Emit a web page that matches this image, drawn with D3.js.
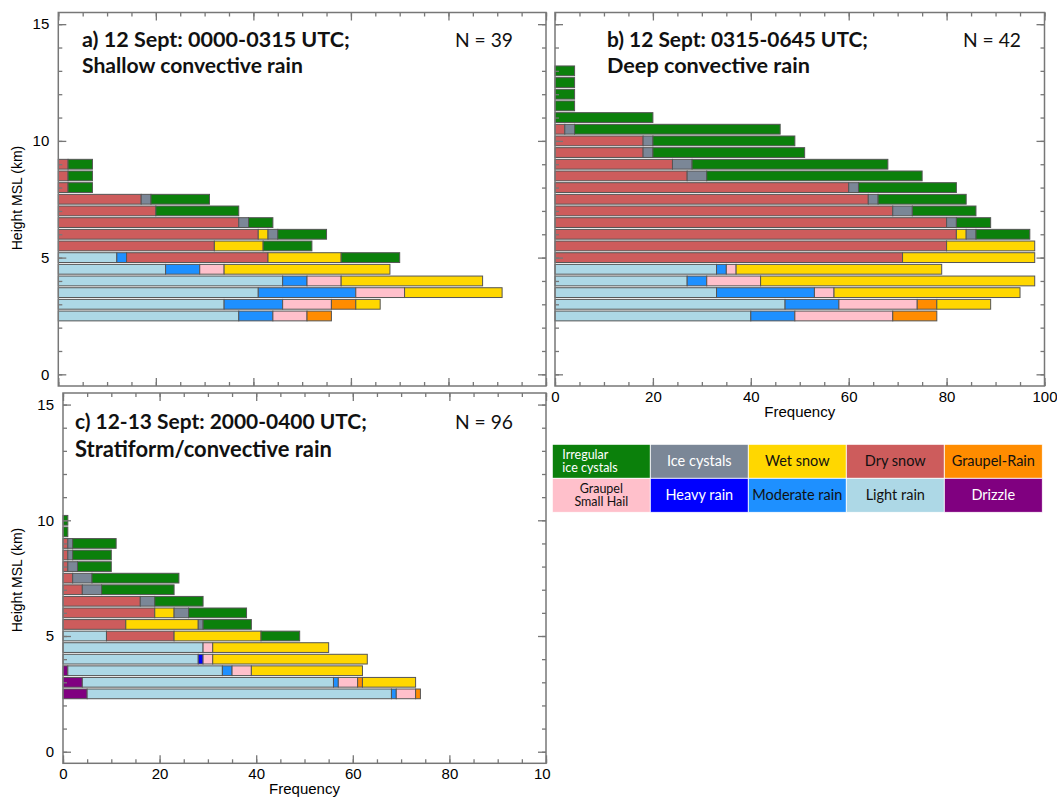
<!DOCTYPE html>
<html>
<head>
<meta charset="utf-8">
<script src="https://cdn.jsdelivr.net/npm/d3@7"></script>
<style>
  body { margin: 0; background: #fff; }
  svg { display: block; }
</style>
</head>
<body>
<svg id="fig" width="1057" height="798"></svg>
<script>
// Hydrometeor classes, in stacking order from left to right
const classKeys = ["Dz", "LR", "MR", "HR", "GSH", "GR", "DS", "WS", "IC", "IIC"];
const classLabels = ["Drizzle", "Light rain", "Moderate rain", "Heavy rain", "Graupel Small Hail",
                     "Graupel-Rain", "Dry snow", "Wet snow", "Ice cystals", "Irregular ice cystals"];
const classColors = ["#800080", "#add8e6", "#1e90ff", "#0000ff", "#ffc0cb",
                     "#ff8c00", "#cd5c5c", "#ffd700", "#7b8797", "#0b800b"];

// Legend layout order (two rows of five)
const legendOrder = [["IIC", "IC", "WS", "DS", "GR"], ["GSH", "HR", "MR", "LR", "Dz"]];
const legendText = {
  IIC: ["Irregular", "ice cystals"], IC: ["Ice cystals"], WS: ["Wet snow"], DS: ["Dry snow"],
  GR: ["Graupel-Rain"], GSH: ["Graupel", "Small Hail"], HR: ["Heavy rain"],
  MR: ["Moderate rain"], LR: ["Light rain"], Dz: ["Drizzle"]
};
const legendTextColor = { IIC: "#fff", IC: "#fff", HR: "#fff", Dz: "#fff" };

// Height levels (km MSL) and frequency of each class per level (%)
const levelsA = [2.5, 3.0, 3.5, 4.0, 4.5, 5.0, 5.5, 6.0, 6.5, 7.0, 7.5, 8.0, 8.5, 9.0];
const freqA = [
  [0, 37, 7, 0, 7, 5, 0, 0, 0, 0],
  [0, 34, 12, 0, 10, 5, 0, 5, 0, 0],
  [0, 41, 20, 0, 10, 0, 0, 20, 0, 0],
  [0, 46, 5, 0, 7, 0, 0, 29, 0, 0],
  [0, 22, 7, 0, 5, 0, 0, 34, 0, 0],
  [0, 12, 2, 0, 0, 0, 29, 15, 0, 12],
  [0, 0, 0, 0, 0, 0, 32, 10, 0, 10],
  [0, 0, 0, 0, 0, 0, 41, 2, 2, 10],
  [0, 0, 0, 0, 0, 0, 37, 0, 2, 5],
  [0, 0, 0, 0, 0, 0, 20, 0, 0, 17],
  [0, 0, 0, 0, 0, 0, 17, 0, 2, 12],
  [0, 0, 0, 0, 0, 0, 2, 0, 0, 5],
  [0, 0, 0, 0, 0, 0, 2, 0, 0, 5],
  [0, 0, 0, 0, 0, 0, 2, 0, 0, 5]
];

const levelsB = [2.5, 3.0, 3.5, 4.0, 4.5, 5.0, 5.5, 6.0, 6.5, 7.0, 7.5, 8.0, 8.5, 9.0,
                 9.5, 10.0, 10.5, 11.0, 11.5, 12.0, 12.5, 13.0];
const freqB = [
  [0, 40, 9, 0, 20, 9, 0, 0, 0, 0],
  [0, 47, 11, 0, 16, 4, 0, 11, 0, 0],
  [0, 33, 20, 0, 4, 0, 0, 38, 0, 0],
  [0, 27, 4, 0, 11, 0, 0, 56, 0, 0],
  [0, 33, 2, 0, 2, 0, 0, 42, 0, 0],
  [0, 0, 0, 0, 0, 0, 71, 27, 0, 0],
  [0, 0, 0, 0, 0, 0, 80, 18, 0, 0],
  [0, 0, 0, 0, 0, 0, 82, 2, 2, 11],
  [0, 0, 0, 0, 0, 0, 80, 0, 2, 7],
  [0, 0, 0, 0, 0, 0, 69, 0, 4, 13],
  [0, 0, 0, 0, 0, 0, 64, 0, 2, 18],
  [0, 0, 0, 0, 0, 0, 60, 0, 2, 20],
  [0, 0, 0, 0, 0, 0, 27, 0, 4, 44],
  [0, 0, 0, 0, 0, 0, 24, 0, 4, 40],
  [0, 0, 0, 0, 0, 0, 18, 0, 2, 31],
  [0, 0, 0, 0, 0, 0, 18, 0, 2, 29],
  [0, 0, 0, 0, 0, 0, 2, 0, 2, 42],
  [0, 0, 0, 0, 0, 0, 0, 0, 0, 20],
  [0, 0, 0, 0, 0, 0, 0, 0, 0, 4],
  [0, 0, 0, 0, 0, 0, 0, 0, 0, 4],
  [0, 0, 0, 0, 0, 0, 0, 0, 0, 4],
  [0, 0, 0, 0, 0, 0, 0, 0, 0, 4]
];

const levelsC = [2.5, 3.0, 3.5, 4.0, 4.5, 5.0, 5.5, 6.0, 6.5, 7.0, 7.5, 8.0, 8.5, 9.0, 9.5, 10.0];
const freqC = [
  [5, 63, 1, 0, 4, 1, 0, 0, 0, 0],
  [4, 52, 1, 0, 4, 1, 0, 11, 0, 0],
  [1, 32, 2, 0, 4, 0, 0, 23, 0, 0],
  [0, 28, 0, 1, 2, 0, 0, 32, 0, 0],
  [0, 29, 0, 0, 2, 0, 0, 24, 0, 0],
  [0, 9, 0, 0, 0, 0, 14, 18, 0, 8],
  [0, 0, 0, 0, 0, 0, 13, 15, 1, 10],
  [0, 0, 0, 0, 0, 0, 19, 4, 3, 12],
  [0, 0, 0, 0, 0, 0, 16, 0, 3, 10],
  [0, 0, 0, 0, 0, 0, 4, 0, 4, 15],
  [0, 0, 0, 0, 0, 0, 2, 0, 4, 18],
  [0, 0, 0, 0, 0, 0, 1, 0, 2, 7],
  [0, 0, 0, 0, 0, 0, 1, 0, 1, 8],
  [0, 0, 0, 0, 0, 0, 1, 0, 1, 9],
  [0, 0, 0, 0, 0, 0, 0, 0, 0, 1],
  [0, 0, 0, 0, 0, 0, 0, 0, 0, 1]
];

// Axis ticks and labels
const yMajorTicks = [0, 5, 10, 15];
const yMinorTicks = d3.range(0, 16, 1);
const xMajorTicks = [0, 20, 40, 60, 80, 100];
const xMinorTicks = d3.range(0, 101, 5);
const yAxisTitle = "Height MSL (km)";
const xAxisTitle = "Frequency";

const titlesA = ["a) 12 Sept: 0000-0315 UTC;", "Shallow convective rain"];
const titlesB = ["b) 12 Sept: 0315-0645 UTC;", "Deep convective rain"];
const titlesC = ["c) 12-13 Sept: 2000-0400 UTC;", "Stratiform/convective rain"];
const countA = "N = 39", countB = "N = 42", countC = "N = 96";

// ---------------------------------------------------------------------------
const svg = d3.select("#fig");
const AXIS_COLOR = "#777";
const TICK_FONT = "'Liberation Sans', Arial, Helvetica, sans-serif";
const TITLE_FONT = "Lato, 'Open Sans', sans-serif";

// panel c sits beside panel b, whose frame hides the end of its last tick label
svg.append("defs").append("clipPath").attr("id", "clipC")
  .append("rect").attr("x", 0).attr("y", 388).attr("width", 551).attr("height", 410);

const panels = [
  { levels: levelsA, freq: freqA, titles: titlesA, count: countA,
    box: { x0: 58.3, x1: 546, y0: 12.5, y1: 386 },
    yLabels: true, xLabels: false, yTitleY: 198,
    titleX: 82, titleY: [47, 73], titleW: [268, 221], countX: 484, countY: 47 },
  { levels: levelsB, freq: freqB, titles: titlesB, count: countB,
    box: { x0: 555, x1: 1044.5, y0: 12.5, y1: 386 },
    yLabels: false, xLabels: true,
    titleX: 607, titleY: [47, 73], titleW: [261, 203], countX: 992, countY: 47 },
  { levels: levelsC, freq: freqC, titles: titlesC, count: countC,
    box: { x0: 63, x1: 546, y0: 393, y1: 763.3 }, clip: "clipC",
    yLabels: true, xLabels: true, yTitleY: 580,
    titleX: 75, titleY: [429, 457], titleW: [292, 257], countX: 484, countY: 429 }
];

function fitText(sel, width) {
  // scale the font so the text spans the given width
  const node = sel.node();
  const fs = parseFloat(sel.attr("font-size"));
  const len = node.getComputedTextLength();
  if (len > 0) sel.attr("font-size", (fs * width / len).toFixed(2));
}

panels.forEach(p => {
  const b = p.box;
  const g = svg.append("g");
  if (p.clip) g.attr("clip-path", `url(#${p.clip})`);

  const x = d3.scaleLinear().domain([0, 100]).range([b.x0, b.x1]);
  const y = d3.scaleLinear().domain([-0.5, 15.5]).range([b.y1, b.y0]);

  // stacked horizontal bars, one per height level
  const rows = p.levels.map((lv, i) => {
    const r = { level: lv };
    classKeys.forEach((k, j) => r[k] = p.freq[i][j]);
    return r;
  });
  const series = d3.stack().keys(classKeys)(rows);
  const half = 0.21;
  series.forEach((s, si) => {
    g.append("g").selectAll("rect")
      .data(s.filter(d => d[1] - d[0] > 0))
      .join("rect")
      .attr("x", d => x(d[0]))
      .attr("width", d => x(d[1]) - x(d[0]))
      .attr("y", d => y(d.data.level + half))
      .attr("height", d => y(d.data.level - half) - y(d.data.level + half))
      .attr("fill", classColors[si])
      .attr("stroke", "#555")
      .attr("stroke-width", 1);
  });

  // axes: ticks point inward on all four sides
  const axG = g.append("g").attr("font-family", TICK_FONT);
  const styleAxis = sel => {
    sel.select(".domain").remove();
    sel.selectAll(".tick line").attr("stroke", AXIS_COLOR).attr("stroke-width", 1.3);
    sel.selectAll(".tick text").attr("fill", "#000").attr("font-size", 15).attr("font-family", TICK_FONT);
  };
  // left
  axG.append("g").attr("transform", `translate(${b.x0},0)`)
    .call(d3.axisLeft(y).tickValues(yMinorTicks).tickSize(-4).tickFormat("")).call(styleAxis);
  axG.append("g").attr("transform", `translate(${b.x0},0)`)
    .call(d3.axisLeft(y).tickValues(yMajorTicks).tickSize(-8).tickPadding(9)
      .tickFormat(p.yLabels ? d3.format("d") : "")).call(styleAxis);
  // right
  axG.append("g").attr("transform", `translate(${b.x1},0)`)
    .call(d3.axisRight(y).tickValues(yMinorTicks).tickSize(-4).tickFormat("")).call(styleAxis);
  axG.append("g").attr("transform", `translate(${b.x1},0)`)
    .call(d3.axisRight(y).tickValues(yMajorTicks).tickSize(-8).tickFormat("")).call(styleAxis);
  // bottom
  axG.append("g").attr("transform", `translate(0,${b.y1})`)
    .call(d3.axisBottom(x).tickValues(xMinorTicks).tickSize(-4).tickFormat("")).call(styleAxis);
  axG.append("g").attr("transform", `translate(0,${b.y1})`)
    .call(d3.axisBottom(x).tickValues(xMajorTicks).tickSize(-8).tickPadding(5)
      .tickFormat(p.xLabels ? d3.format("d") : "")).call(styleAxis);
  // top
  axG.append("g").attr("transform", `translate(0,${b.y0})`)
    .call(d3.axisTop(x).tickValues(xMinorTicks).tickSize(-4).tickFormat("")).call(styleAxis);
  axG.append("g").attr("transform", `translate(0,${b.y0})`)
    .call(d3.axisTop(x).tickValues(xMajorTicks).tickSize(-8).tickFormat("")).call(styleAxis);

  // frame
  g.append("rect")
    .attr("x", b.x0).attr("y", b.y0)
    .attr("width", b.x1 - b.x0).attr("height", b.y1 - b.y0)
    .attr("fill", "none").attr("stroke", AXIS_COLOR).attr("stroke-width", 1.5);

  // axis titles
  if (p.xLabels) {
    g.append("text")
      .attr("x", (b.x0 + b.x1) / 2).attr("y", b.y1 + 31)
      .attr("text-anchor", "middle")
      .attr("font-family", TICK_FONT).attr("font-size", 15)
      .text(xAxisTitle);
  }
  if (p.yLabels) {
    g.append("text")
      .attr("transform", `translate(22,${p.yTitleY}) rotate(-90)`)
      .attr("text-anchor", "middle")
      .attr("font-family", TICK_FONT).attr("font-size", 14)
      .text(yAxisTitle);
  }

  // panel title and sample count
  p.titles.forEach((t, i) => {
    const tt = g.append("text")
      .attr("x", p.titleX).attr("y", p.titleY[i])
      .attr("font-family", TITLE_FONT).attr("font-weight", "bold")
      .attr("font-size", 20).attr("fill", "#111")
      .text(t);
    fitText(tt, p.titleW[i]);
  });
  const nt = g.append("text")
    .attr("x", p.countX).attr("y", p.countY)
    .attr("text-anchor", "middle")
    .attr("font-family", TITLE_FONT).attr("font-size", 20).attr("fill", "#111")
    .text(p.count);
  fitText(nt, 58);
});

// colour key
const legend = { x0: 552.3, x1: 1042.3, y0: 444.3, y1: 512.3 };
const cellW = (legend.x1 - legend.x0) / 5;
const cellH = (legend.y1 - legend.y0) / 2;
const lg = svg.append("g").attr("font-family", TITLE_FONT);
legendOrder.forEach((row, r) => {
  row.forEach((k, c) => {
    const idx = classKeys.indexOf(k);
    const cx = legend.x0 + c * cellW, cy = legend.y0 + r * cellH;
    lg.append("rect")
      .attr("x", cx).attr("y", cy).attr("width", cellW).attr("height", cellH)
      .attr("fill", classColors[idx]).attr("stroke", "#fff").attr("stroke-width", 0.8);
    const lines = legendText[k];
    const left = k === "IIC";
    const two = lines.length > 1;
    lines.forEach((ln, li) => {
      const yy = cy + cellH / 2 + (li - (lines.length - 1) / 2) * 13.5;
      lg.append("text")
        .attr("x", left ? cx + 10 : cx + cellW / 2)
        .attr("y", yy)
        .attr("dy", "0.35em")
        .attr("text-anchor", left ? "start" : "middle")
        .attr("fill", legendTextColor[k] || "#111")
        .attr("font-size", two ? 12.5 : 14.5)
        .text(ln);
    });
  });
});
</script>
</body>
</html>
